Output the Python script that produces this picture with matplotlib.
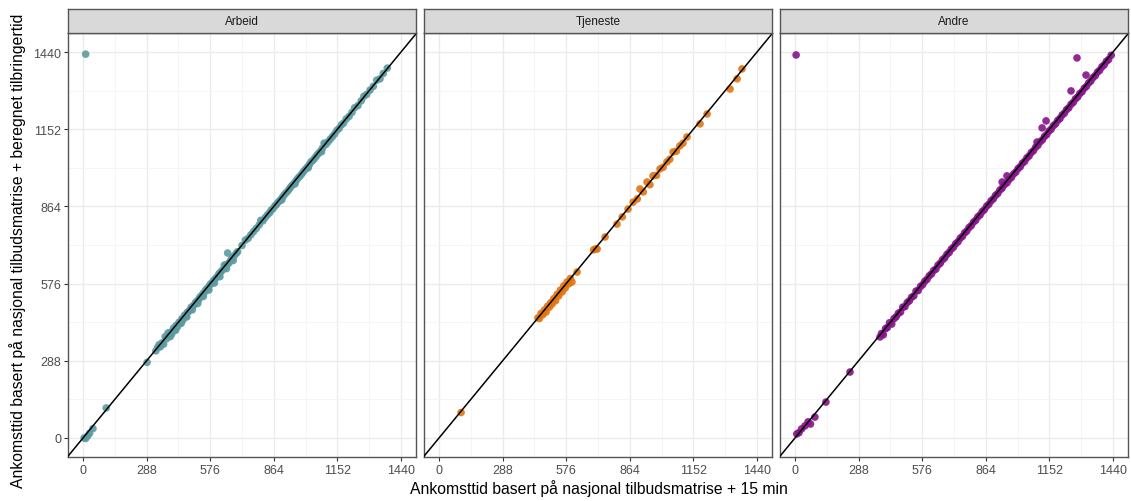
import numpy as np
import matplotlib
matplotlib.use("Agg")
import matplotlib.pyplot as plt

plt.rcParams['font.family'] = ['Liberation Sans', 'DejaVu Sans']

# facet names and colours
panels = ['Arbeid', 'Tjeneste', 'Andre']
colors = ['#5B9AA0', '#E07410', '#86138A']

ticks = [0, 288, 576, 864, 1152, 1440]

# Arbeid
arbeid_x = [12, 5, 12, 22, 30, 45, 105, 290,
            330, 338, 345, 350, 358, 365, 372, 378, 385, 390, 398, 402, 410, 415,
            422, 428, 435, 440, 448, 452, 460, 465, 472, 478, 485, 490, 498, 505,
            510, 518, 525, 530, 538, 545, 552, 558, 565, 572, 578, 585, 592, 600,
            608, 615, 622, 630, 638, 645, 652, 660, 668, 675, 685, 695, 700, 655, 640,
            395, 420, 445, 470, 495, 520, 545, 570, 595, 620, 650, 680,
            720, 735, 748, 760, 772, 785, 798, 805, 815, 825, 835, 845, 852, 860,
            868, 875, 882, 890, 898, 905, 912, 920, 928, 935, 942, 950, 958, 965,
            972, 980, 988, 995, 1002, 1010, 1018, 1025, 1032, 1040, 1048, 1055,
            1062, 1070, 1078, 1085, 1092, 1100, 1110, 1120, 1130, 1140, 1150, 1160,
            1170, 1180, 1192, 1205, 1218, 1230, 1245, 1260, 1272, 1285, 1300, 1315,
            1330, 1345, 1360, 1378, 900, 960, 1020, 1080]
arbeid_y = [1432, 0, -2, 8, 18, 35, 112, 282,
            325, 338, 348, 340, 355, 350, 378, 370, 392, 382, 395, 388, 410, 403,
            420, 415, 432, 428, 445, 440, 458, 452, 468, 472, 478, 488, 492, 498,
            506, 512, 518, 526, 532, 540, 546, 555, 558, 568, 575, 580, 588, 595,
            602, 612, 618, 625, 632, 642, 648, 652, 662, 670, 680, 690, 695, 690, 645,
            378, 402, 428, 452, 478, 502, 528, 552, 578, 602, 632, 662,
            718, 738, 745, 758, 770, 782, 795, 812, 810, 822, 832, 840, 850, 855,
            865, 870, 878, 885, 892, 900, 908, 915, 922, 930, 938, 945, 952, 960,
            968, 975, 982, 990, 998, 1005, 1012, 1020, 1030, 1035, 1042, 1050,
            1058, 1065, 1072, 1082, 1100, 1095, 1105, 1115, 1125, 1135, 1148, 1155,
            1168, 1175, 1190, 1200, 1215, 1232, 1240, 1258, 1275, 1282, 1298, 1312,
            1335, 1340, 1360, 1380, 888, 948, 1008, 1068]

# Tjeneste
tjeneste_x = [100, 448, 455, 462, 470, 478, 485, 492, 500, 506, 512, 520, 528,
              535, 542, 550, 558, 565, 572, 580, 588, 595, 602, 625, 700, 710, 716,
              752, 806, 830, 856, 879, 898, 910, 925, 942, 955, 969, 985, 1001, 1015,
              1032, 1045, 1060, 1075, 1091, 1105, 1123, 1182, 1214, 1318, 1350, 1372]
tjeneste_y = [95, 448, 446, 465, 460, 478, 470, 492, 488, 505, 500, 520, 512,
              536, 530, 552, 545, 568, 560, 582, 575, 595, 582, 619, 702, 706, 705,
              750, 798, 825, 854, 880, 892, 929, 918, 955, 945, 978, 980, 1004, 1010,
              1030, 1040, 1067, 1070, 1090, 1100, 1123, 1172, 1209, 1302, 1340, 1377]

# Andre
andre_x = [5, 8, 18, 30, 45, 59, 70, 90, 140, 249,
           385, 392, 400, 410, 418, 428, 438, 448, 458, 468, 478, 488, 498, 508,
           518, 528, 538, 548, 558, 568, 578, 588, 598, 608, 618, 628, 638, 648,
           658, 668, 678, 688, 698, 708, 718, 728, 738, 748, 758, 768, 778, 788,
           798, 808, 818, 828, 838, 848, 858, 868, 878, 888, 898, 908, 918, 928,
           938, 948, 960, 970, 980, 990, 1000, 1010, 1020, 1030, 1040, 1050, 1060,
           1070, 1080, 1090, 1100, 1110, 1120, 1130, 1140, 1150, 1160, 1170, 1180,
           1190, 1200, 1210, 1220, 1230, 1240, 1250, 1260, 1270, 1280, 1290, 1300,
           1310, 1320, 1330, 1340, 1350, 1360, 1370, 1380, 1390, 1400, 1410, 1420,
           1432, 938, 960, 1096, 1119, 1137, 1250, 1277, 1318]
andre_y = [1429, 15, 20, 34, 45, 60, 52, 78, 134, 246,
           377, 390, 385, 408, 412, 430, 425, 445, 452, 465, 470, 488, 490, 505,
           512, 525, 530, 548, 550, 565, 572, 585, 592, 605, 612, 625, 630, 645,
           652, 665, 672, 685, 692, 705, 712, 725, 732, 745, 752, 765, 772, 785,
           792, 805, 812, 825, 832, 845, 852, 865, 872, 885, 892, 905, 912, 925,
           932, 945, 952, 965, 972, 985, 992, 1005, 1012, 1025, 1032, 1045, 1052,
           1065, 1072, 1085, 1092, 1105, 1112, 1125, 1132, 1145, 1152, 1165, 1172,
           1185, 1192, 1205, 1212, 1225, 1232, 1245, 1252, 1265, 1272, 1285, 1292,
           1305, 1312, 1325, 1332, 1345, 1352, 1365, 1372, 1385, 1392, 1405, 1412,
           1428, 955, 978, 1104, 1157, 1183, 1295, 1418, 1354]

data = [(arbeid_x, arbeid_y), (tjeneste_x, tjeneste_y), (andre_x, andre_y)]

fig = plt.figure(figsize=(11.31, 5.02), dpi=100)
W, H = 1131, 502
lefts = [68, 424, 780]
pw = 348
top, bottom = 34, 458
strip_top = 10

xlim = (-68, 1508)
ylim = (-71, 1511)

for i, (name, col, (xs, ys)) in enumerate(zip(panels, colors, data)):
    ax = fig.add_axes([lefts[i] / W, 1 - bottom / H, pw / W, (bottom - top) / H])
    ax.set_xticks(ticks)
    ax.set_yticks(ticks)
    ax.set_xticks([144, 432, 720, 1008, 1296], minor=True)
    ax.set_yticks([144, 432, 720, 1008, 1296], minor=True)
    ax.grid(which='major', color='#EBEBEB', lw=1.0)
    ax.grid(which='minor', color='#F4F4F4', lw=0.6)
    ax.set_axisbelow(True)
    ax.tick_params(which='minor', length=0)
    ax.tick_params(which='major', length=3, width=0.8, color='#333333',
                   labelsize=9, labelcolor='#4D4D4D', pad=2)
    if i > 0:
        ax.tick_params(axis='y', labelleft=False, length=0)
    for s in ax.spines.values():
        s.set_color('#555555')
        s.set_linewidth(1.0)

    ax.scatter(xs, ys, s=30, color=col, alpha=0.9, edgecolors='none', zorder=2)
    ax.plot(xlim, xlim, color='black', lw=1.1, zorder=3)
    ax.set_xlim(*xlim)
    ax.set_ylim(*ylim)

    # strip
    sax = fig.add_axes([lefts[i] / W, 1 - top / H, pw / W, (top - strip_top) / H])
    sax.set_xticks([])
    sax.set_yticks([])
    sax.set_facecolor('#D9D9D9')
    for s in sax.spines.values():
        s.set_color('#555555')
        s.set_linewidth(1.0)
    sax.text(0.5, 0.5, name, ha='center', va='center', fontsize=8.5,
             color='#1A1A1A', transform=sax.transAxes)

fig.text(0.53, 0.01, 'Ankomsttid basert på nasjonal tilbudsmatrise + 15 min',
         ha='center', va='bottom', fontsize=11.3)
fig.text(0.008, 0.5, 'Ankomsttid basert på nasjonal tilbudsmatrise + beregnet tilbringertid',
         ha='left', va='center', rotation=90, fontsize=11.3)

fig.savefig('out.png', dpi=100)
